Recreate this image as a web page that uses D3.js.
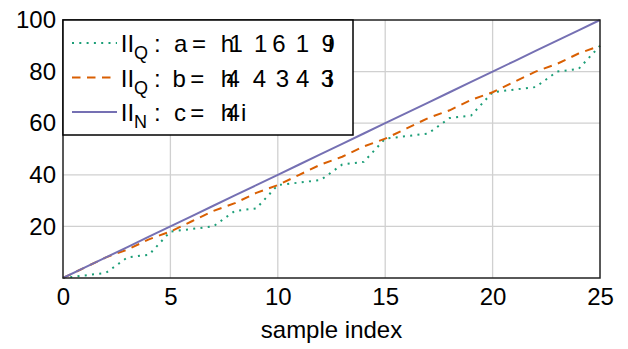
<!DOCTYPE html>
<html>
<head>
<meta charset="utf-8">
<script src="https://cdn.jsdelivr.net/npm/d3@7"></script>
<style>
  body { margin: 0; background: #fff; }
  text { font-family: "Liberation Sans", Arial, sans-serif; }
</style>
</head>
<body>
<div id="chart"></div>
<script>
// sample index and the three cumulative series
const sampleIdx = [0,1,2,3,4,5,6,7,8,9,10,11,12,13,14,15,16,17,18,19,20,21,22,23,24,25]
const seriesA = [0,1,2,8,9,18,19,20,26,27,36,37,38,44,45,54,55,56,62,63,72,73,74,80,81,90]
const seriesB = [0,4,8,11,15,18,22,26,29,33,36,40,44,47,51,54,58,62,65,69,72,76,80,83,87,90]
const seriesC = [0,4,8,12,16,20,24,28,32,36,40,44,48,52,56,60,64,68,72,76,80,84,88,92,96,100]
const xTicks = [0,5,10,15,20,25]
const yTicks = [20,40,60,80,100]
const xLabel = 'sample index'
// legend text: subscript, variable, and the digits inside the bracket glyphs
const legendSubs = ['Q', 'Q', 'N']
const legendVars = ['a', 'b', 'c']
const legendDigits = [['1','1','6','1','9'], ['4','4','3','4','3'], ['4']]

const W = 628, H = 349
const margin = { top: 20, right: 28, bottom: 71, left: 63 }
const width = W - margin.left - margin.right
const height = H - margin.top - margin.bottom
const FS = 24

const svg = d3.select('#chart').append('svg')
    .attr('width', W)
    .attr('height', H)
const g = svg.append('g')
    .attr('transform', `translate(${margin.left}, ${margin.top})`)

const xScale = d3.scaleLinear().domain([0, 25]).range([0, width])
const yScale = d3.scaleLinear().domain([0, 100]).range([height, 0])

// grid
g.append('g').selectAll('line').data(xTicks.slice(1, -1)).join('line')
    .attr('x1', d => xScale(d)).attr('x2', d => xScale(d))
    .attr('y1', 0).attr('y2', height)
    .attr('stroke', '#d0d0d0').attr('stroke-width', 1.3)
g.append('g').selectAll('line').data(yTicks.slice(0, -1)).join('line')
    .attr('x1', 0).attr('x2', width)
    .attr('y1', d => yScale(d)).attr('y2', d => yScale(d))
    .attr('stroke', '#d0d0d0').attr('stroke-width', 1.3)

// axes (labels only)
const xAxis = g.append('g')
    .attr('transform', `translate(0, ${height})`)
    .call(d3.axisBottom(xScale).tickValues(xTicks).tickSize(0).tickPadding(10))
const yAxis = g.append('g')
    .call(d3.axisLeft(yScale).tickValues(yTicks).tickSize(0).tickPadding(7))
;[xAxis, yAxis].forEach(a => {
    a.select('.domain').remove()
    a.selectAll('text').attr('font-size', FS).attr('fill', '#000')
        .style('font-family', '"Liberation Sans", Arial, sans-serif')
})

g.append('text')
    .attr('x', width / 2).attr('y', height + 60)
    .attr('text-anchor', 'middle')
    .attr('font-size', FS)
    .text(xLabel)

// lines
const series = [
    { values: seriesA, color: '#1b9e77', dash: '2,5.3', w: 2 },
    { values: seriesB, color: '#d95f02', dash: '8.5,6.5', w: 2 },
    { values: seriesC, color: '#7570b3', dash: null, w: 2 },
]
const line = d3.line()
    .x((d, i) => xScale(sampleIdx[i]))
    .y(d => yScale(d))
series.forEach(s => {
    g.append('path')
        .datum(s.values)
        .attr('d', line)
        .attr('fill', 'none')
        .attr('stroke', s.color)
        .attr('stroke-width', s.w)
        .attr('stroke-dasharray', s.dash)
})

// frame
g.append('rect')
    .attr('width', width).attr('height', height)
    .attr('fill', 'none').attr('stroke', '#222').attr('stroke-width', 1.5)

// legend (absolute coords in svg)
const legend = svg.append('g')
legend.append('rect')
    .attr('x', margin.left).attr('y', margin.top)
    .attr('width', 290).attr('height', 115)
    .attr('fill', '#fff').attr('stroke', '#000').attr('stroke-width', 1.5)

// glyph placement per row
const rowLayout = [
    { base: 52, varX: 174, eqX: 192, digX: [229.5, 254.1, 272.3, 295.7, 321.5], iX: 328 },
    { base: 86.5, varX: 172.4, eqX: 190.3, digX: [226.6, 252.7, 275.7, 296.1, 320.7], iX: 327.5 },
    { base: 121, varX: 174, eqX: 190.3, digX: [226.6], iX: 241 },
]
legendSubs.forEach((sub, i) => {
    const L = rowLayout[i]
    const s = series[i]
    legend.append('line')
        .attr('x1', 72).attr('x2', 117)
        .attr('y1', L.base - 9).attr('y2', L.base - 9)
        .attr('stroke', s.color).attr('stroke-width', s.w)
        .attr('stroke-dasharray', s.dash)
    const t = legend.append('text')
        .attr('y', L.base)
        .attr('font-size', FS)
    t.append('tspan').attr('x', 120.8).text('II')
    t.append('tspan').attr('x', 134).attr('dy', 7).attr('font-size', 18).text(sub)
    t.append('tspan').attr('x', 154).attr('dy', -7).text(':')
    t.append('tspan').attr('x', L.varX).text(legendVars[i])
    t.append('tspan').attr('x', L.eqX).text('=')
    t.append('tspan').attr('x', 220.7).text('h')
    legendDigits[i].forEach((dg, j) => {
        t.append('tspan').attr('x', L.digX[j]).text(dg)
    })
    t.append('tspan').attr('x', L.iX).text('i')
})
</script>
</body>
</html>
